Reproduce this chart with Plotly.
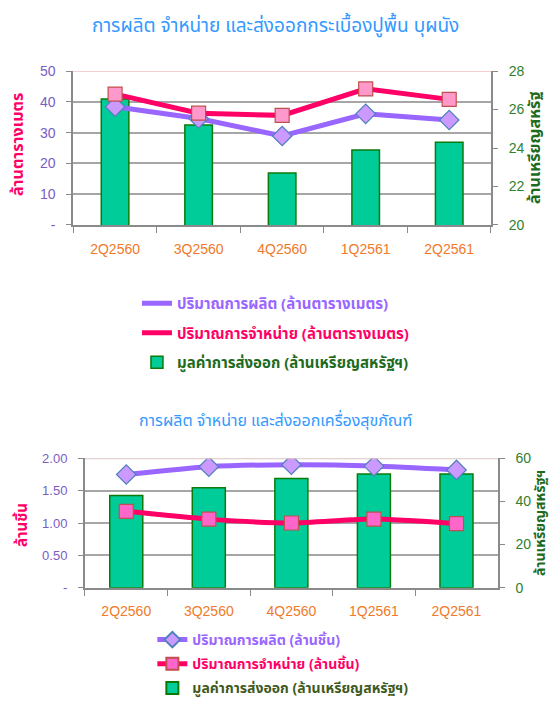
import plotly.graph_objects as go

quarters = ["2Q2560", "3Q2560", "4Q2560", "1Q2561", "2Q2561"]

# tiles (million sq.m / million USD)
tile_prod = [38.4, 34.6, 28.9, 36.1, 34.1]
tile_sales = [42.5, 36.3, 35.6, 44.2, 40.8]
tile_export = [26.55, 25.2, 22.7, 23.9, 24.3]

# sanitary ware (million pieces / million USD)
san_prod = [1.75, 1.87, 1.90, 1.88, 1.82]
san_sales = [1.18, 1.06, 1.00, 1.06, 0.99]
san_export = [42.7, 46.4, 50.6, 52.7, 52.7]

THAI = "Tahoma, 'Noto Sans Thai', 'Noto Sans', 'DejaVu Sans', sans-serif"
ARIAL = "'Liberation Sans', Arial, sans-serif"
PURPLE = "#9966FF"
PINK = "#FF0066"
BAR = "#00CC99"
BAR_EDGE = "#0B7A0B"
AXIS = "#8A8A8A"
ORANGE = "#F07A2A"
TICK_PURPLE = "#7B5CC4"
TICK_GREEN = "#2F7F2F"
TITLE_BLUE = "#3399FF"


def lbl(text, color):
    return f"<span style='color:{color}'><b>{text}</b></span>"


fig = go.Figure()

# ---------- chart 1: tiles ----------
fig.add_trace(go.Bar(
    x=quarters, y=tile_export, xaxis="x", yaxis="y", width=0.33,
    marker=dict(color=BAR, line=dict(color=BAR_EDGE, width=1.5)),
    name=lbl("มูลค่าการส่งออก (ล้านเหรียญสหรัฐฯ)", "#1E6B1E"),
    legend="legend", legendgroup="a3", legendrank=3,
))
fig.add_trace(go.Scatter(
    x=quarters, y=tile_prod, xaxis="x", yaxis="y2", mode="lines",
    line=dict(color=PURPLE, width=5),
    name=lbl("ปริมาณการผลิต (ล้านตารางเมตร)", PURPLE),
    legend="legend", legendgroup="a1", legendrank=1,
))
fig.add_trace(go.Scatter(
    x=quarters, y=tile_sales, xaxis="x", yaxis="y2", mode="lines",
    line=dict(color=PINK, width=5),
    name=lbl("ปริมาณการจำหน่าย (ล้านตารางเมตร)", PINK),
    legend="legend", legendgroup="a2", legendrank=2,
))
fig.add_trace(go.Scatter(
    x=quarters, y=tile_prod, xaxis="x", yaxis="y2", mode="markers",
    marker=dict(symbol="diamond", size=15, color="#CC99FF",
                line=dict(color="#4F81BD", width=1.2)),
    showlegend=False,
))
fig.add_trace(go.Scatter(
    x=quarters, y=tile_sales, xaxis="x", yaxis="y2", mode="markers",
    marker=dict(symbol="square", size=14, color="#FF99CC",
                line=dict(color="#C0504D", width=1.2)),
    showlegend=False,
))

# ---------- chart 2: sanitary ware ----------
fig.add_trace(go.Bar(
    x=quarters, y=san_export, xaxis="x2", yaxis="y3", width=0.4,
    marker=dict(color=BAR, line=dict(color=BAR_EDGE, width=1.5)),
    name=lbl("มูลค่าการส่งออก (ล้านเหรียญสหรัฐฯ)", "#3F5A1E"),
    legend="legend2", legendgroup="b3", legendrank=3,
))
fig.add_trace(go.Scatter(
    x=quarters, y=san_prod, xaxis="x2", yaxis="y4", mode="lines+markers",
    line=dict(color=PURPLE, width=5, shape="spline", smoothing=0.6),
    marker=dict(symbol="diamond", size=15, color="#CC99FF",
                line=dict(color="#4F81BD", width=1.2)),
    name=lbl("ปริมาณการผลิต (ล้านชิ้น)", PURPLE),
    legend="legend2", legendgroup="b1", legendrank=1,
))
fig.add_trace(go.Scatter(
    x=quarters, y=san_sales, xaxis="x2", yaxis="y4", mode="lines+markers",
    line=dict(color=PINK, width=5, shape="spline", smoothing=0.6),
    marker=dict(symbol="square", size=14, color="#FF66CC",
                line=dict(color="#C0504D", width=1.2)),
    name=lbl("ปริมาณการจำหน่าย (ล้านชิ้น)", PINK),
    legend="legend2", legendgroup="b2", legendrank=2,
))

xcommon = dict(
    type="category", showgrid=False, showline=True, linecolor=AXIS, linewidth=2,
    ticks="outside", tickson="boundaries", ticklen=6, tickcolor=AXIS,
    tickfont=dict(family=ARIAL, size=14, color=ORANGE), ticklabelstandoff=10,
    automargin=False,
)
ycommon = dict(
    showline=True, linecolor=AXIS, linewidth=2, zeroline=False,
    ticks="outside", ticklen=5, tickcolor=AXIS, ticklabelstandoff=8,
    automargin=False,
)

fig.update_layout(
    width=550, height=704,
    margin=dict(l=0, r=0, t=0, b=0, autoexpand=False),
    paper_bgcolor="white", plot_bgcolor="white",
    font=dict(family=THAI),
    showlegend=True,
    xaxis=dict(domain=[0.1333, 0.8927], anchor="y", **xcommon),
    yaxis=dict(
        domain=[0.6804, 0.8991], anchor="x", side="right", range=[20, 28],
        tickvals=[20, 22, 24, 26, 28], showgrid=False,
        tickfont=dict(family=ARIAL, size=14, color=TICK_GREEN), **ycommon,
    ),
    yaxis2=dict(
        overlaying="y", anchor="x", side="left", range=[0, 50],
        tickvals=[0, 10, 20, 30, 40, 50], ticktext=["-", "10", "20", "30", "40", "50"],
        showgrid=True, gridcolor="#A6A6A6", gridwidth=1.5,
        tickfont=dict(family=ARIAL, size=14, color=TICK_PURPLE), **ycommon,
    ),
    xaxis2=dict(domain=[0.1545, 0.905], anchor="y3", **xcommon),
    yaxis3=dict(
        domain=[0.1652, 0.349], anchor="x2", side="right", range=[0, 60],
        tickvals=[0, 20, 40, 60], showgrid=False,
        tickfont=dict(family=ARIAL, size=14, color=TICK_GREEN), **ycommon,
    ),
    yaxis4=dict(
        overlaying="y3", anchor="x2", side="left", range=[0, 2],
        tickvals=[0, 0.5, 1, 1.5, 2], ticktext=["-", "0.50", "1.00", "1.50", "2.00"],
        showgrid=True, gridcolor="#A6A6A6", gridwidth=1.5,
        tickfont=dict(family=ARIAL, size=13, color=TICK_PURPLE), **ycommon,
    ),
    legend=dict(
        x=0.249, y=1 - 287 / 704, xanchor="left", yanchor="top", orientation="v",
        bgcolor="rgba(0,0,0,0)", tracegroupgap=7, traceorder="grouped",
        font=dict(family=THAI, size=15),
    ),
    legend2=dict(
        x=0.277, y=0.0, xanchor="left", yanchor="bottom", orientation="v",
        bgcolor="rgba(0,0,0,0)", tracegroupgap=3, traceorder="grouped",
        itemsizing="constant", font=dict(family=THAI, size=14),
    ),
)

# light top border lines of the plot areas
fig.add_shape(type="line", xref="x domain", yref="y2", x0=0, x1=1, y0=50, y1=50,
              line=dict(color="#F7CFCF", width=2))
fig.add_shape(type="line", xref="x2 domain", yref="y4", x0=0, x1=1, y0=2, y1=2,
              line=dict(color="#D9C3C0", width=2))

annotations = [
    dict(text="การผลิต จำหน่าย และส่งออกกระเบื้องปูพื้น บุผนัง", x=0.5, y=1 - 27 / 704,
         font=dict(size=19, color=TITLE_BLUE)),
    dict(text="การผลิต จำหน่าย และส่งออกเครื่องสุขภัณฑ์", x=0.5, y=1 - 421 / 704,
         font=dict(size=16, color=TITLE_BLUE)),
    dict(text="<b>ล้านตารางเมตร</b>", x=18 / 550, y=1 - 145 / 704, textangle=-90,
         font=dict(size=16, color=PINK)),
    dict(text="<b>ล้านเหรียญสหรัฐ</b>", x=535 / 550, y=1 - 148 / 704, textangle=-90,
         font=dict(size=16, color="#1E6B1E")),
    dict(text="<b>ล้านชิ้น</b>", x=22 / 550, y=1 - 525 / 704, textangle=-90,
         font=dict(size=15, color=PINK)),
    dict(text="<b>ล้านเหรียญสหรัฐฯ</b>", x=540 / 550, y=1 - 523 / 704, textangle=-90,
         font=dict(size=14, color="#1E6B1E")),
]
for a in annotations:
    fig.add_annotation(xref="paper", yref="paper", showarrow=False,
                       xanchor="center", yanchor="middle", **a)

# the page body has a default 8px margin; drop it so the figure sits at 0,0
fig.write_html(
    "out.html",
    config={"displayModeBar": False},
    post_script="document.body.style.margin='0';",
)
